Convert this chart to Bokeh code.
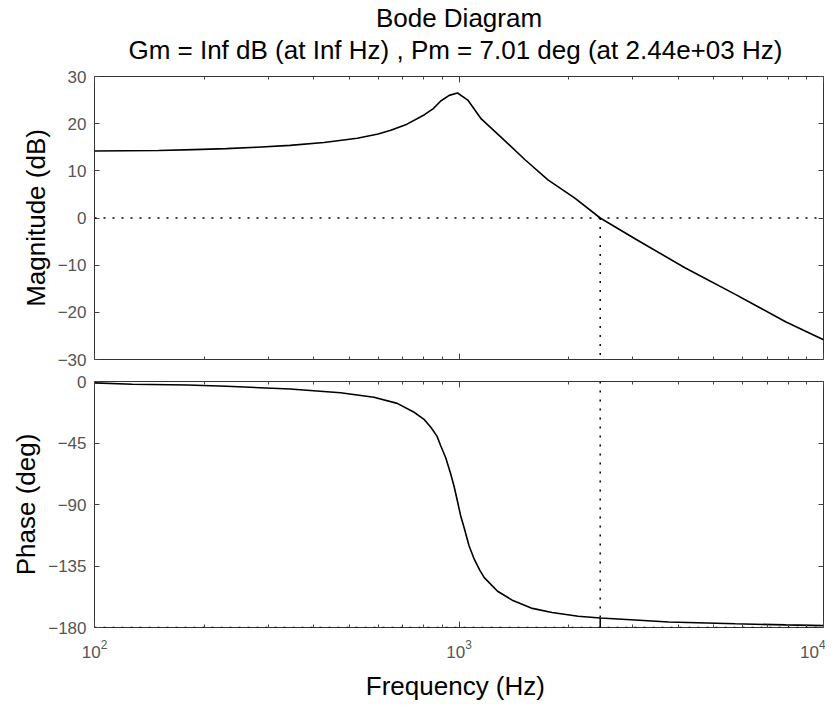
from bokeh.plotting import figure
from bokeh.models import (FixedTicker, LogAxis, LinearAxis, Range1d, Title,
                          CustomJSTickFormatter, Span)
from bokeh.layouts import column
from bokeh.embed import file_html
from bokeh.resources import INLINE

# ---------------- data ----------------
freq_mag = [100, 150, 187, 230, 279, 344, 426, 526, 600, 650, 720, 804, 850,
            891, 940, 991, 1057, 1151, 1306, 1515, 1754, 2079, 2440, 3040,
            4178, 5730, 7870, 10000]
mag_db = [14.2, 14.3, 14.5, 14.7, 15.0, 15.4, 16.0, 16.9, 17.8, 18.6, 19.9,
          21.9, 23.2, 24.8, 26.0, 26.5, 25.0, 21.0, 17.1, 12.4, 8.1, 4.2, 0.0,
          -4.4, -10.6, -16.2, -22.0, -25.8]

freq_phase = [100, 127, 180, 230, 344, 473, 584, 677, 753, 800, 837, 870, 891,
              920, 950, 970, 991, 1010, 1033, 1065, 1101, 1140, 1173, 1276,
              1400, 1578, 1800, 2123, 2440, 3040, 3759, 5730, 7870, 10000]
phase_deg = [-1.0, -2.0, -2.6, -3.5, -5.5, -8.2, -11.5, -16.0, -22.5, -27.5,
             -33.5, -40.0, -47.0, -56.0, -68.0, -77.0, -88.0, -98.0, -107.0,
             -120.0, -130.0, -138.0, -143.5, -153.5, -160.0, -165.8, -169.0,
             -171.8, -173.0, -174.5, -176.0, -177.3, -178.1, -178.6]

crossover_hz = 2440
phase_margin_deg = 7.01
phase_ref = -180

mag_ticks = [-30, -20, -10, 0, 10, 20, 30]
phase_ticks = [-180, -135, -90, -45, 0]
freq_major = [100, 1000, 10000]
freq_minor = [200, 300, 400, 500, 600, 700, 800, 900,
              2000, 3000, 4000, 5000, 6000, 7000, 8000, 9000]

title_line1 = "Bode Diagram"
title_line2 = "Gm = Inf dB (at Inf Hz) ,  Pm = 7.01 deg (at 2.44e+03 Hz)"
mag_label = "Magnitude (dB)"
phase_label = "Phase (deg)"
freq_label = "Frequency  (Hz)"

# ---------------- styling ----------------
FONT = "Liberation Sans"
TICK_COLOR = "#444444"
LABEL_COLOR = "#555555"
FRAME_W = 729
LEFT = 94
BIG = "26px"
SMALL = "17px"


def blank_formatter():
    return CustomJSTickFormatter(code="return ''")


def style_y(ax, labelled, text=None):
    ax.axis_line_color = None
    ax.major_tick_in = 5
    ax.major_tick_out = 0
    ax.minor_tick_in = 0
    ax.minor_tick_out = 0
    ax.major_tick_line_color = TICK_COLOR
    if labelled:
        ax.major_label_text_font = FONT
        ax.major_label_text_font_size = SMALL
        ax.major_label_text_color = LABEL_COLOR
        ax.major_label_standoff = 8
        ax.axis_label = text
        ax.axis_label_text_font = FONT
        ax.axis_label_text_font_size = BIG
        ax.axis_label_text_font_style = "normal"
        ax.axis_label_text_color = "black"
        ax.axis_label_standoff = 4
    else:
        ax.formatter = blank_formatter()
        ax.major_label_text_font_size = "1px"
        ax.major_label_standoff = 0


def style_x(ax, labelled, text=None):
    ax.axis_line_color = None
    ax.major_tick_in = 6
    ax.major_tick_out = 0
    ax.minor_tick_in = 3
    ax.minor_tick_out = 0
    ax.major_tick_line_color = TICK_COLOR
    ax.minor_tick_line_color = TICK_COLOR
    if labelled:
        ax.major_label_text_font = FONT
        ax.major_label_text_font_size = SMALL
        ax.major_label_text_color = LABEL_COLOR
        ax.major_label_standoff = 12
        ax.axis_label = text
        ax.axis_label_text_font = FONT
        ax.axis_label_text_font_size = BIG
        ax.axis_label_text_font_style = "normal"
        ax.axis_label_text_color = "black"
        ax.axis_label_standoff = 10
    else:
        ax.formatter = blank_formatter()
        ax.major_label_text_font_size = "1px"
        ax.major_label_standoff = 0


def make_fig(yticks, frame_h, top, bottom):
    p = figure(x_axis_type="log", x_range=Range1d(freq_major[0], freq_major[-1]),
               y_range=Range1d(min(yticks), max(yticks)), frame_width=FRAME_W,
               frame_height=frame_h, output_backend="svg", toolbar_location=None,
               x_axis_location=None, y_axis_location=None,
               min_border_left=LEFT, min_border_right=2,
               min_border_top=top, min_border_bottom=bottom,
               background_fill_color="white", border_fill_color="white")
    p.xgrid.visible = False
    p.ygrid.visible = False
    p.outline_line_color = "#333333"
    p.outline_line_width = 1
    xt = FixedTicker(ticks=freq_major, minor_ticks=freq_minor)
    yt = FixedTicker(ticks=yticks)
    axes = {}
    for side in ("left", "right"):
        ax = LinearAxis(ticker=yt)
        axes[side] = ax
        p.add_layout(ax, side)
    for side in ("below", "above"):
        ax = LogAxis(ticker=xt)
        axes[side] = ax
        p.add_layout(ax, side)
    return p, axes


# ---------------- magnitude panel ----------------
p1, a1 = make_fig(mag_ticks, 283, 72, 10)
style_y(a1["left"], True, mag_label)
style_y(a1["right"], False)
style_x(a1["below"], False)
style_x(a1["above"], False)

p1.add_layout(Span(location=0, dimension="width", line_color="black",
                   line_width=1.5, line_dash="2 7"))
p1.segment(x0=[crossover_hz], y0=[0], x1=[crossover_hz], y1=[min(mag_ticks)],
           line_color="black", line_width=1.5, line_dash="2 7")
p1.line(freq_mag, mag_db, line_color="black", line_width=1.6)

# spacer between frame and title block
p1.add_layout(Title(text=" ", align="center", text_font_size="1px", standoff=9), "above")
p1.add_layout(Title(text=title_line2, align="center", text_font=FONT,
                    text_font_size=BIG, text_font_style="normal",
                    text_color="black", standoff=0), "above")
p1.add_layout(Title(text=title_line1, align="center", text_font=FONT,
                    text_font_size=BIG, text_font_style="normal",
                    text_color="black", standoff=0), "above")

# ---------------- phase panel ----------------
p2, a2 = make_fig(phase_ticks, 246, 12, 79)
style_y(a2["left"], True, phase_label)
style_y(a2["right"], False)
style_x(a2["below"], True, freq_label)
style_x(a2["above"], False)

pm_phase = phase_ref + phase_margin_deg
p2.add_layout(Span(location=phase_ref, dimension="width", line_color="black",
                   line_width=1.5, line_dash="2 7"))
p2.segment(x0=[crossover_hz], y0=[max(phase_ticks)], x1=[crossover_hz], y1=[pm_phase],
           line_color="black", line_width=1.5, line_dash="2 7")
p2.segment(x0=[crossover_hz], y0=[pm_phase], x1=[crossover_hz], y1=[phase_ref],
           line_color="black", line_width=1.5)
p2.line(freq_phase, phase_deg, line_color="black", line_width=1.6)

layout = column(p1, p2, spacing=0)
open("out.html", "w").write(file_html(layout, INLINE))
